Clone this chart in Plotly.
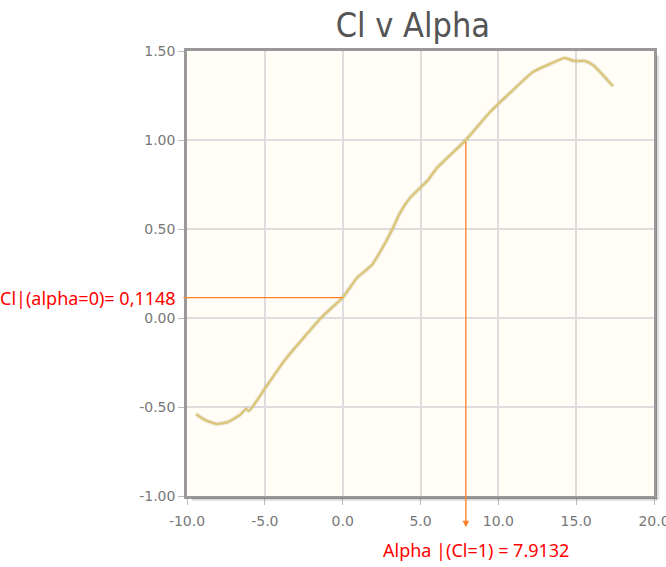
import plotly.graph_objects as go

# Lift coefficient vs angle of attack
alpha = [-9.42, -8.84, -8.07, -7.37, -6.60, -6.21, -6.02, -4.93, -3.71, -1.33,
         0.00, 0.92, 1.88, 2.40, 3.17, 3.68, 4.32, 5.48, 6.06, 7.9132,
         9.46, 10.74, 12.22, 13.31, 14.28, 14.86, 15.56, 16.08, 16.72, 17.36]
cl = [-0.540, -0.573, -0.596, -0.584, -0.545, -0.511, -0.522, -0.388, -0.236, 0.006,
      0.1148, 0.225, 0.298, 0.371, 0.494, 0.590, 0.674, 0.775, 0.843, 1.000,
      1.157, 1.264, 1.382, 1.427, 1.461, 1.444, 1.444, 1.421, 1.365, 1.303]

cl_at_zero = 0.1148
alpha_at_one = 7.9132
label_cl0 = "Cl|(alpha=0)= 0,1148"
label_a1 = "Alpha |(Cl=1) = 7.9132"

x_ticks = [-10, -5, 0, 5, 10, 15, 20]
x_ticktext = ["-10.0", "-5.0", "0.0", "5.0", "10.0", "15.0", "20.0"]
y_ticks = [-1.0, -0.5, 0.0, 0.5, 1.0, 1.5]
y_ticktext = ["-1.00", "-0.50", "0.00", "0.50", "1.00", "1.50"]

fig = go.Figure()

# soft shadow under the curve
fig.add_trace(go.Scatter(
    x=alpha, y=cl, mode="lines",
    line=dict(color="rgba(0,0,0,0.05)", width=5, shape="spline", smoothing=0.5),
    hoverinfo="skip", showlegend=False,
))
fig.add_trace(go.Scatter(
    x=alpha, y=cl, mode="lines",
    line=dict(color="#dbc67b", width=2.6, shape="spline", smoothing=0.5),
    showlegend=False,
))

tick_font = dict(family="DejaVu Sans", size=14, color="#777777")

fig.update_layout(
    width=666, height=567,
    margin=dict(l=187, r=12, t=51, b=71),
    paper_bgcolor="white",
    plot_bgcolor="#fffdf6",
    title=dict(text="Cl v Alpha", x=0.62, xanchor="center", y=0.955, yanchor="middle",
               font=dict(family="DejaVu Sans Condensed", size=34, color="#555555")),
    xaxis=dict(range=[-10, 20], tickvals=x_ticks, ticktext=x_ticktext,
               showgrid=True, gridcolor="#dddddd", gridwidth=1.5,
               showline=True, mirror=True, linecolor="#999999", linewidth=2.5,
               ticks="outside", ticklen=6, tickcolor="#bbbbbb",
               tickfont=tick_font, zeroline=False, automargin=False,
               ticklabeloverflow="allow", ticklabelstandoff=4),
    yaxis=dict(range=[-1, 1.5], tickvals=y_ticks, ticktext=y_ticktext,
               showgrid=True, gridcolor="#dddddd", gridwidth=1.5,
               showline=True, mirror=True, linecolor="#999999", linewidth=2.5,
               ticks="outside", ticklen=6, tickcolor="#bbbbbb",
               tickfont=tick_font, zeroline=False, automargin=False,
               ticklabeloverflow="allow"),
)

# frame shadow on the right and bottom edges
fig.add_shape(type="line", xref="paper", yref="paper", x0=1.008, x1=1.008, y0=0.99, y1=-0.008,
              line=dict(color="rgba(0,0,0,0.12)", width=3))
fig.add_shape(type="line", xref="paper", yref="paper", x0=0.01, x1=1.008, y0=-0.008, y1=-0.008,
              line=dict(color="rgba(0,0,0,0.12)", width=3))

orange = "#ff7f27"
# horizontal marker at alpha = 0
fig.add_annotation(x=0, y=cl_at_zero, xref="x", yref="y",
                   ax=-10.33, ay=cl_at_zero, axref="x", ayref="y",
                   text="", showarrow=True, arrowhead=0, arrowwidth=1.3, arrowcolor=orange,
                   standoff=0, startstandoff=0)
# vertical arrow at Cl = 1
fig.add_annotation(x=alpha_at_one, y=-1.175, xref="x", yref="y",
                   ax=alpha_at_one, ay=1.0, axref="x", ayref="y",
                   text="", showarrow=True, arrowhead=2, arrowsize=1.0, arrowwidth=1.3,
                   arrowcolor=orange, standoff=0, startstandoff=0)

red_font = dict(family="Noto Sans", size=18, color="#ff0000")
fig.add_annotation(x=-0.019, y=cl_at_zero, xref="paper", yref="y",
                   text=label_cl0, showarrow=False, xanchor="right", yanchor="middle",
                   font=red_font)
fig.add_annotation(x=8.56, y=-0.121, xref="x", yref="paper",
                   text=label_a1, showarrow=False, xanchor="center", yanchor="middle",
                   font=red_font)

fig.write_html("out.html")
